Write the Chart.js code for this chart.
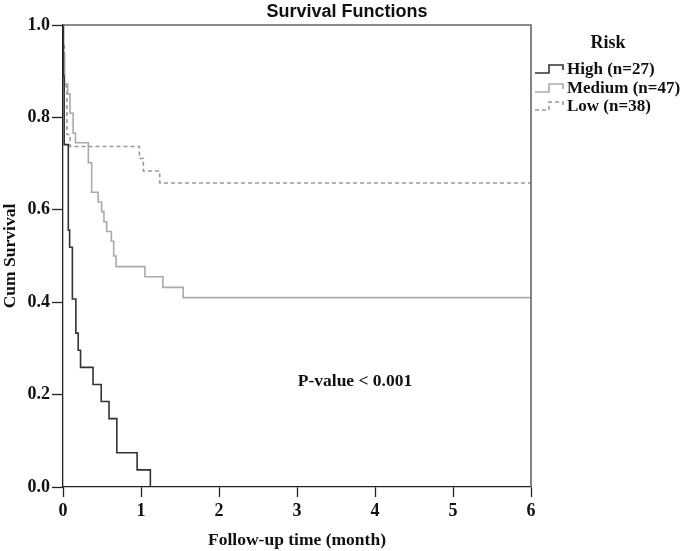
<!DOCTYPE html>
<html>
<head>
<meta charset="utf-8">
<title>Survival Functions</title>
<script src="https://cdn.jsdelivr.net/npm/chart.js@4.4.1/dist/chart.umd.min.js"></script>
<style>
  html, body { margin: 0; padding: 0; background: #fff; }
  #survChart { display: block; }
</style>
</head>
<body>
<canvas id="survChart" width="685" height="551"></canvas>
<script>
// Kaplan-Meier step values
const highTimes = [0, 0.005, 0.015, 0.068, 0.085, 0.12, 0.165, 0.195, 0.225, 0.385, 0.49, 0.59, 0.69, 0.95, 1.12];
const highSurv  = [1, 0.889, 0.741, 0.556, 0.519, 0.407, 0.333, 0.296, 0.259, 0.222, 0.185, 0.148, 0.074, 0.037, 0];

const medTimes = [0, 0.005, 0.02, 0.06, 0.09, 0.13, 0.16, 0.325, 0.367, 0.45, 0.495, 0.525, 0.56, 0.62, 0.65, 0.68, 1.05, 1.28, 1.54, 6];
const medSurv  = [1, 0.936, 0.872, 0.851, 0.809, 0.766, 0.745, 0.702, 0.638, 0.617, 0.596, 0.574, 0.553, 0.532, 0.5, 0.477, 0.455, 0.432, 0.41, 0.41];

const lowTimes = [0, 0.003, 0.017, 0.05, 0.09, 0.98, 1.03, 1.24, 6];
const lowSurv  = [1, 0.96, 0.868, 0.763, 0.737, 0.711, 0.684, 0.658, 0.658];

const groupLabels = ['High (n=27)', 'Medium (n=47)', 'Low (n=38)'];
const xTicks = [0, 1, 2, 3, 4, 5, 6];
const yTicks = [0, 0.2, 0.4, 0.6, 0.8, 1.0];

const serif = '"Liberation Serif", "Times New Roman", serif';

function toPoints(times, surv) {
    return times.map((t, i) => ({ x: t, y: surv[i] }));
}

// Frame, title, legend and p-value text
const extras = {
    id: 'extras',
    afterDraw(chart) {
        const c = chart.ctx;
        const a = chart.chartArea;
        c.save();
        // top and right frame
        c.strokeStyle = '#666';
        c.lineWidth = 1.6;
        c.beginPath();
        c.moveTo(a.left, a.top);
        c.lineTo(a.right, a.top);
        c.lineTo(a.right, a.bottom);
        c.stroke();

        // title
        c.fillStyle = '#111';
        c.font = 'bold 18px "Liberation Sans", Arial, sans-serif';
        c.textAlign = 'center';
        c.textBaseline = 'alphabetic';
        c.fillText('Survival Functions', 347, 17);

        // legend
        c.font = 'bold 18px ' + serif;
        c.fillText('Risk', 608, 48);
        c.font = 'bold 17px ' + serif;
        c.textAlign = 'left';
        c.textBaseline = 'middle';
        const rows = [69, 88, 106];
        chart.data.datasets.forEach((ds, i) => {
            const y = rows[i];
            c.strokeStyle = ds.borderColor;
            c.lineWidth = ds.borderWidth;
            c.setLineDash(ds.borderDash || []);
            c.beginPath();
            c.moveTo(535, y + 4);
            c.lineTo(549, y + 4);
            c.lineTo(549, y - 4);
            c.lineTo(563, y - 4);
            c.lineTo(563, y + 1);
            c.stroke();
            c.setLineDash([]);
            c.fillStyle = '#111';
            c.fillText(ds.label, 567, y + 1);
        });

        // p-value
        c.textAlign = 'center';
        c.font = 'bold 17.5px ' + serif;
        c.fillText('P-value < 0.001', 355, 381);
        c.restore();
    }
};

const ctx = document.getElementById('survChart').getContext('2d');
const survChart = new Chart(ctx, {
    type: 'line',
    data: {
        datasets: [{
            label: groupLabels[0],
            data: toPoints(highTimes, highSurv),
            borderColor: '#333',
            borderWidth: 1.6,
            stepped: 'before',
            pointRadius: 0,
            fill: false
        }, {
            label: groupLabels[1],
            data: toPoints(medTimes, medSurv),
            borderColor: '#aaa',
            borderWidth: 1.6,
            stepped: 'before',
            pointRadius: 0,
            fill: false
        }, {
            label: groupLabels[2],
            data: toPoints(lowTimes, lowSurv),
            borderColor: '#999',
            borderWidth: 1.6,
            borderDash: [4, 3],
            stepped: 'before',
            pointRadius: 0,
            fill: false
        }]
    },
    options: {
        responsive: false,
        animation: false,
        devicePixelRatio: 1,
        layout: { padding: { top: 25, right: 154, left: 0, bottom: 0 } },
        plugins: {
            legend: { display: false },
            tooltip: { enabled: false },
            title: { display: false }
        },
        scales: {
            x: {
                type: 'linear',
                min: 0,
                max: 6,
                afterBuildTicks(scale) { scale.ticks = xTicks.map(v => ({ value: v })); },
                afterFit(scale) { scale.height = 64; },
                grid: { drawOnChartArea: false, tickLength: 10, tickColor: '#222', tickWidth: 1.3 },
                border: { color: '#222', width: 1.3 },
                ticks: { color: '#111', font: { family: serif, size: 18, weight: 'bold' }, padding: 4 },
                title: {
                    display: true,
                    text: 'Follow-up time (month)',
                    color: '#111',
                    font: { family: serif, size: 17.5, weight: 'bold' },
                    padding: { top: 0, bottom: 0 }
                }
            },
            y: {
                min: 0,
                max: 1,
                afterBuildTicks(scale) { scale.ticks = yTicks.map(v => ({ value: v })); },
                afterFit(scale) { scale.width = 63; },
                grid: { drawOnChartArea: false, tickLength: 11, tickColor: '#222', tickWidth: 1.3 },
                border: { color: '#222', width: 1.3 },
                ticks: {
                    color: '#111',
                    font: { family: serif, size: 18, weight: 'bold' },
                    padding: 2,
                    callback: v => v.toFixed(1)
                },
                title: {
                    display: true,
                    text: 'Cum Survival',
                    color: '#111',
                    font: { family: serif, size: 17.5, weight: 'bold' },
                    padding: { top: 0, bottom: 0 }
                }
            }
        }
    },
    plugins: [extras]
});
</script>
</body>
</html>
